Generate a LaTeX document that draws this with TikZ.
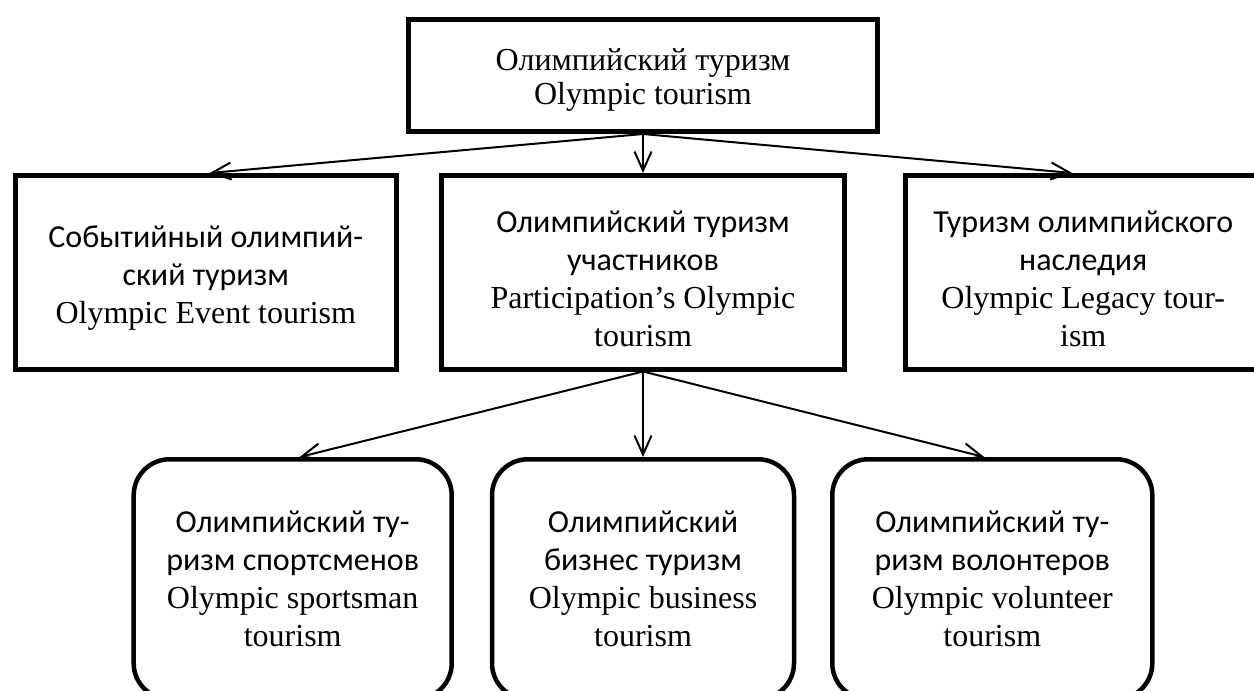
\documentclass[tikz,border=0pt]{standalone}
\usepackage{fontspec}
\setmainfont{Liberation Serif}
\newfontfamily\cyr{Carlito}
\newcommand\lift[1]{\rule{0pt}{#1}}
\usetikzlibrary{positioning,arrows.meta}

\begin{document}
\begin{tikzpicture}[
    x=0.5pt, y=-0.5pt,
    font=\fontsize{16}{19}\selectfont,
    box/.style = {draw, line width=2.5pt, inner sep=0pt, minimum height=96.75pt, align=center},
    rbox/.style = {draw, line width=2.25pt, inner sep=0pt, minimum height=120pt, rounded corners=18pt, align=center},
    > = {Straight Barb[length=9.5pt, width=8.5pt]}
]
\useasboundingbox (0,0) rectangle (1254,691);

\node (top) [draw, line width=2.5pt, inner sep=0pt, minimum width=234.5pt, minimum height=56pt, align=center, font=\fontsize{16}{17}\selectfont] at (643,75.5) {\lift{15pt}Олимпийский туризм \\ Olympic tourism};

\node (part) [box, minimum width=201.75pt, below=19.5pt of top] {{\cyr\lift{17pt}Олимпийский туризм} \\ {\cyr участников} \\ Participation’s Olympic \\ tourism};
\node (event) [box, minimum width=190.5pt, left=20pt of part] {{\cyr\lift{17pt}Событийный олимпий-} \\ {\cyr ский туризм} \\ Olympic Event tourism};
\node (legacy) [box, minimum width=177.5pt, right=28pt of part] {{\cyr\lift{17pt}Туризм олимпийского} \\ {\cyr наследия} \\ Olympic Legacy tour- \\ ism};

\node (bus) [rbox, minimum width=151pt, below=42.75pt of part] {{\cyr Олимпийский} \\ {\cyr бизнес туризм} \\ Olympic business \\ tourism};
\node (sport) [rbox, minimum width=159pt, left=17.9pt of bus] {{\cyr Олимпийский ту-} \\ {\cyr ризм спортсменов} \\ Olympic sportsman \\ tourism};
\node (vol) [rbox, minimum width=160pt, right=16.9pt of bus] {{\cyr Олимпийский ту-} \\ {\cyr ризм волонтеров} \\ Olympic volunteer \\ tourism};

\draw[->, line width=1pt] (top.south) to ([xshift=2pt]event.north);
\draw[->, line width=1pt] (top.south) to (part.north);
\draw[->, line width=1pt] (top.south) to ([xshift=-5.5pt]legacy.north);
\draw[->, line width=1pt] (part.south) to ([xshift=3.5pt]sport.north);
\draw[->, line width=1pt] (part.south) to (bus.north);
\draw[->, line width=1pt] (part.south) to ([xshift=-4pt]vol.north);
\end{tikzpicture}
\end{document}
